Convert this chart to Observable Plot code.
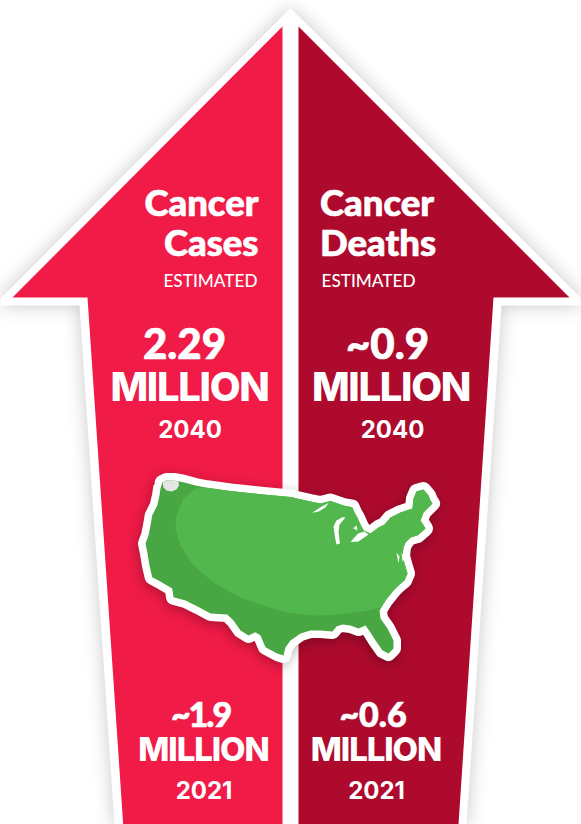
<!DOCTYPE html>
<html>
<head>
<meta charset="utf-8">
<script src="https://cdn.jsdelivr.net/npm/d3@7"></script>
<script src="https://cdn.jsdelivr.net/npm/@observablehq/plot@0.6"></script>
<style>
  html, body { margin: 0; padding: 0; background: #fff; }
  svg { display: block; }
  .arrow-halo { filter: drop-shadow(0 0 9px rgba(0,0,0,.22)); }
  .map-halo { filter: drop-shadow(-1px 3px 6px rgba(0,0,0,.28)); }
  .tight { letter-spacing: -1.3px; }
  .tight-small { letter-spacing: -1.1px; }
  .tight-amount { letter-spacing: -2px; }
</style>
</head>
<body>
<div id="chart"></div>
<script>
// Panels of the double arrow, in chart units
const outerArrow = [[290,7.5],[581,298],[581,305],[501,305],[466,824],[114,824],[79,305],[0,305],[0,298]];
const casesPanel = [[282,26],[12,297],[87,297],[122.7,824],[282,824]];
const deathsPanel = [[298,26],[569,297],[493,297],[458,824],[298,824]];

// Contiguous US coastline and borders
const usOutline = [
  [161.7,482],[166,480],[173,480],[183,481.7],[195,485],[206.7,487.3],[230,490.5],[263,494],[290,496.5],[310,501],[320,503],
  [330,500.5],[343,505],[351.7,506.7],[354,512],[356.7,516.7],[360,524],[363.3,530],[370,533],[378,527],[384,524],[390,517],
  [400,512],[412,508],[413,498],[416,491],[423,489],[428,495],[430,500],[432,503],[427,508],[423,512],[420,520],[425,528],
  [417,535],[410,537],[405,542],[403,547],[402,555],[404,563],[407,573],[404,580],[398,585],[393,590],[385,600],[379,610],
  [380,618],[387,628],[393,640],[393,648],[388,653],[382,650],[375,640],[370,632],[365,625],[358,628],[350,625],[342,624],
  [336,626],[332,631],[320,630],[310,630],[300,633],[290,640],[285,646.7],[283,655],[276.7,653],[265,646.7],[260,635],
  [255,631.7],[248,635],[240,630],[233,620],[226.7,614],[210,613],[197,606],[185,600],[173,596.7],[171.7,588],[158,580],
  [151.7,576.7],[149,565],[147,553],[145,543],[148,535],[150,525],[151.7,515],[156.7,505],[159,495],[160,488]
];
// Boundary of the lighter upper part of the map, running east to west
const shadeEdge = [
  [380,607],[365,610.5],[347,613],[330,614.5],[313,615],[290,612.5],[270,607.5],[240,597],[213,582],[193,565],[180,545],
  [175,528],[176,515],[183,498],[195,488]
];
const lightStart = usOutline.findIndex(d => d[0] === 206.7);
const lightEnd = usOutline.findIndex(d => d[0] === 379);
const lightMap = [...usOutline.slice(lightStart, lightEnd + 1), ...shadeEdge];

// Lakes and inlets
const waters = [
  [[311.7,512.3],[320,506.7],[328.3,502.3],[325,506.7],[318.3,511]],
  [[342,516.7],[336,520],[333,526],[334.5,536.7],[336,544],[339.5,543],[338,531.7],[339,524],[345,517]],
  [[352.7,527.7],[356,525],[357,530]],
  [[358,541],[350,541.5],[357.5,533],[364,531],[368,534]],
  [[407,541],[417,534.5],[411,540]],
  [[396,552],[398,563],[399,556]],
  [[401,552],[405,558],[402,561]]
];
const waterRows = waters.flatMap((shape, i) => shape.map(d => ({id: i, x: d[0], y: d[1]})));

// Pale mark at the north-west corner of the map
const pin = [[162,482],[167,480],[173,480],[178,481],[178.5,485],[176,489],[171,491],[166,490],[163,487]];

// Labels
const white = "#fff";
const casesHeadings = ["Cancer", "Cases"];
const deathsHeadings = ["Cancer", "Deaths"];
const headingY = [215, 255];
const amounts = ["2.29", "~0.9", "~1.9", "~0.6"];
const amountX = [184, 387, 200, 372.5];
const amountY = [358, 358, 726, 726];
const amountSize = [42, 34];
const millionX = [189, 390.5, 203, 375.5];
const millionY = [400, 400, 760, 760];
const years = ["2040", "2040", "2021", "2021"];
const yearX = [189.5, 392, 203.5, 376];
const yearY = [437, 437, 798, 798];

const panel = (pts, fill, extra = {}) =>
  Plot.line(pts, {x: d => d[0], y: d => d[1], fill, stroke: "none", ...extra});

const headFont = "Lato";
const numFont = "Inter";
const bold = {fill: white, stroke: white, strokeWidth: 0.7, fontWeight: 900, fontFamily: headFont, lineAnchor: "bottom"};
const heading = (rows, x, textAnchor) => Plot.text(rows, {
  ...bold, x, y: (d, i) => headingY[i], text: d => d, textAnchor, fontSize: 36.5
});
const estimated = (x, textAnchor) => Plot.text(["ESTIMATED"], {
  x, y: 286, text: d => d, textAnchor, lineAnchor: "bottom",
  fill: white, fontFamily: headFont, fontWeight: 500, fontSize: 17.2
});
const amountLabel = (i, size, extra = {}) => Plot.text([amounts[i]], {
  ...bold, x: amountX[i], y: amountY[i], text: d => d, fontSize: size, ...extra
});

const chart = Plot.plot({
  width: 581,
  height: 824,
  margin: 0,
  x: {domain: [0, 581], range: [0, 581], axis: null},
  y: {domain: [0, 824], range: [0, 824], axis: null},
  marks: [
    panel(outerArrow, white, {className: "arrow-halo"}),
    panel(casesPanel, "#F01B47"),
    panel(deathsPanel, "#AE0A2E"),
    Plot.line(usOutline, {
      x: d => d[0], y: d => d[1], fill: white, stroke: white, strokeWidth: 15,
      strokeLinejoin: "round", className: "map-halo"
    }),
    panel(usOutline, "#49A743"),
    panel(lightMap, "#52B84D"),
    panel(pin, "#E4E6E4"),
    Plot.line(waterRows, {x: "x", y: "y", z: "id", fill: white, stroke: "none"}),
    heading(casesHeadings, 258, "end"),
    heading(deathsHeadings, 319.5, "start"),
    estimated(257, "end"),
    estimated(321, "start"),
    amountLabel(0, amountSize[0]),
    amountLabel(1, amountSize[0]),
    amountLabel(2, amountSize[1], {className: "tight-amount"}),
    amountLabel(3, amountSize[1]),
    Plot.text(amounts.slice(0, 2), {
      x: (d, i) => millionX[i], y: (d, i) => millionY[i], text: () => "MILLION", lineAnchor: "bottom",
      fill: white, fontFamily: numFont, fontWeight: 800, fontSize: 40, className: "tight"
    }),
    Plot.text(amounts.slice(2), {
      x: (d, i) => millionX[i + 2], y: (d, i) => millionY[i + 2], text: () => "MILLION", lineAnchor: "bottom",
      fill: white, fontFamily: numFont, fontWeight: 800, fontSize: 33, className: "tight-small"
    }),
    Plot.text(years, {
      x: (d, i) => yearX[i], y: (d, i) => yearY[i], text: d => d,
      lineAnchor: "bottom", fill: white, fontFamily: numFont, fontWeight: 700, fontSize: 24
    })
  ]
});
document.getElementById("chart").append(chart);
</script>
</body>
</html>
